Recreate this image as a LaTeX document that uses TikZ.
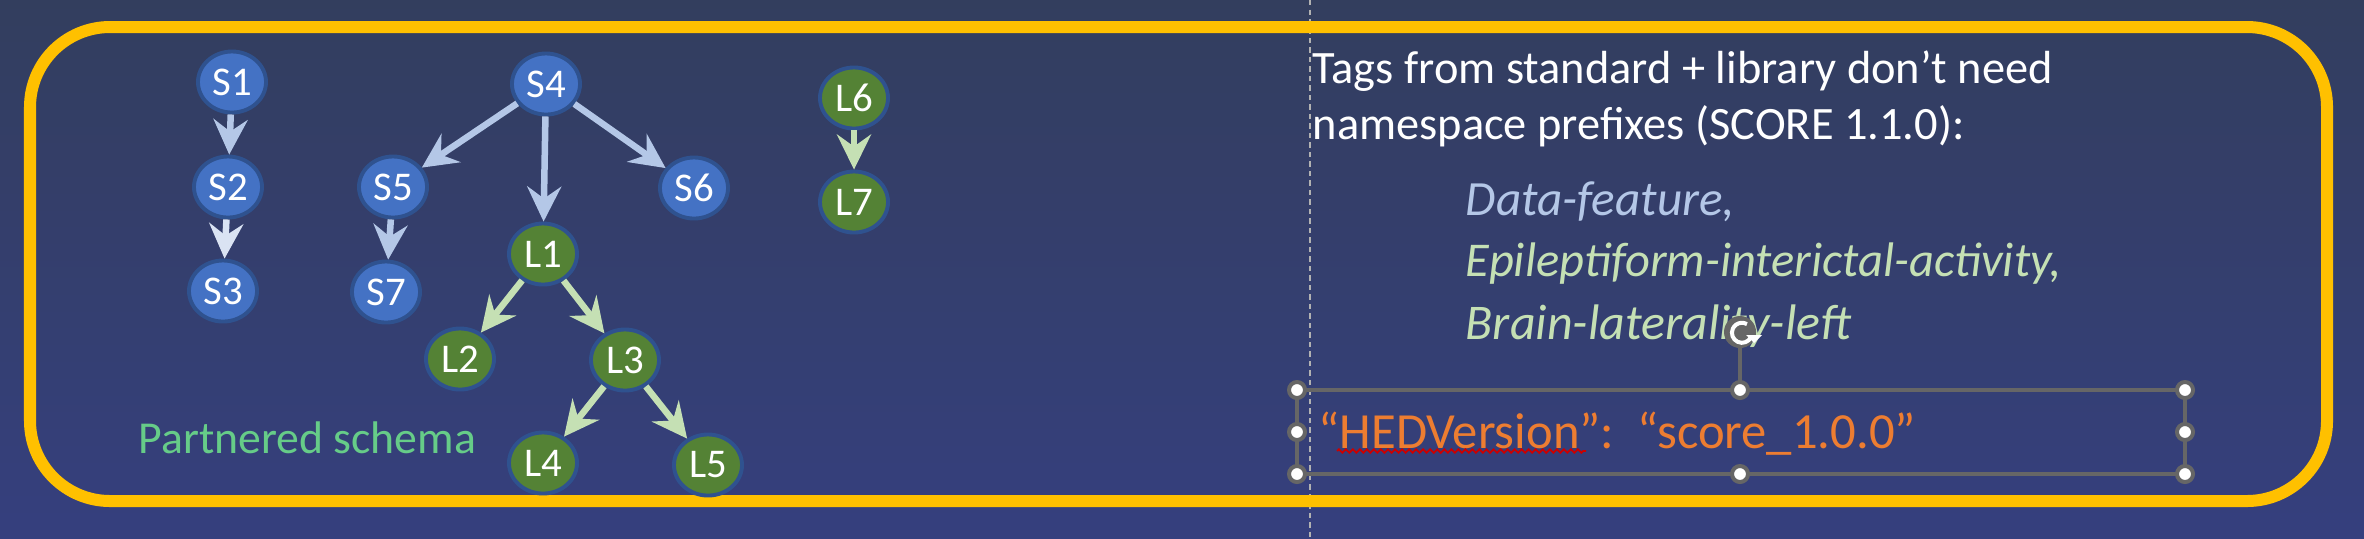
\documentclass[tikz,border=0pt]{standalone}
\usepackage{fontspec}
\setmainfont{Carlito}
\usetikzlibrary{arrows.meta,shapes.geometric,decorations.pathmorphing}
\definecolor{bgtop}{HTML}{333E5E}
\definecolor{bgbot}{HTML}{353F7E}
\definecolor{frameyel}{HTML}{FFC000}
\definecolor{schemablue}{HTML}{4472C4}
\definecolor{libgreen}{HTML}{548235}
\definecolor{ringblue}{HTML}{2F528F}
\definecolor{arrblue}{HTML}{B4C7E7}
\definecolor{arrpale}{HTML}{DAE3F3}
\definecolor{arrgreen}{HTML}{C5E0B4}
\definecolor{hedorange}{HTML}{ED7D31}
\definecolor{partgreen}{HTML}{66CC88}
\definecolor{handlegray}{HTML}{666666}
\tikzset{
  snode/.style={ellipse,draw=ringblue,line width=1.1pt,fill=schemablue,text=white,minimum width=0.68cm,minimum height=0.61cm,inner sep=0pt,font=\fontsize{11.6}{12}\selectfont},
  lnode/.style={snode,fill=libgreen},
  link/.style={-{Stealth[length=0.35cm,width=0.34cm,inset=0.12cm]},line width=0.065cm,draw=arrblue},
  liblink/.style={link,draw=arrgreen},
  tagtext/.style={anchor=base west,inner sep=0pt,font=\fontsize{13.2}{16}\selectfont},
  handle/.style={fill=white,draw=handlegray,line width=0.04cm}
}

\begin{document}
\begin{tikzpicture}[x=0.01cm,y=-0.01cm]
\useasboundingbox (0,0) rectangle (2364,538);
\shade[top color=bgtop,bottom color=bgbot] (0,0) rectangle (2364,538);
\draw[gray!60,line width=0.4pt,dash pattern=on 1.5pt off 1.2pt] (1310,0) -- (1310,538);
\draw[frameyel,line width=0.12cm,rounded corners=0.8cm] (30,27) rectangle (2327,501);
% standard schema
\node[snode] (s1) at (232,82) {S1};
\node[snode] (s2) at (228,187) {S2};
\node[snode] (s3) at (223,291) {S3};
\node[snode] (s4) at (546,84) {S4};
\node[snode] (s5) at (393,187) {S5};
\node[snode] (s6) at (694,188) {S6};
\node[snode] (s7) at (386,292) {S7};
% library schema
\node[lnode] (l1) at (543,254) {L1};
\node[lnode] (l2) at (460,359) {L2};
\node[lnode] (l3) at (625,360) {L3};
\node[lnode] (l4) at (543,463) {L4};
\node[lnode] (l5) at (708,465) {L5};
\node[lnode] (l6) at (854,98) {L6};
\node[lnode] (l7) at (854,202) {L7};
\draw[link] (s1) -- (s2);
\draw[link,draw=arrpale] (s2) -- (s3);
\foreach \a/\b in {s4/s5,s4/l1,s4/s6,s5/s7} \draw[link] (\a) -- (\b);
\foreach \a/\b in {l1/l2,l1/l3,l3/l4,l3/l5,l6/l7} \draw[liblink] (\a) -- (\b);
\node[tagtext,text=partgreen,font=\fontsize{13}{16}\selectfont] (partner) at (138,453) {Partnered schema};
% tags text
\node[tagtext,text=white] (tagsa) at (1312,83) {Tags from standard + library don’t need};
\node[tagtext,text=white] (tagsb) at (1312,139) {namespace prefixes (SCORE 1.1.0):};
\node[tagtext,text=arrblue,font=\fontsize{14}{16}\selectfont] (tagc) at (1465,215) {\itshape Data-feature,};
\node[tagtext,text=arrgreen,font=\fontsize{13.8}{16}\selectfont] (tagd) at (1465,276) {\itshape Epileptiform-interictal-activity,};
\node[tagtext,text=arrgreen,font=\fontsize{14.2}{16}\selectfont] (tage) at (1465,339) {\itshape Brain-laterality-left};
% selected text box
\draw[handlegray,line width=0.04cm] (1297,390) rectangle (2185,474);
\draw[handlegray,line width=0.04cm] (1740,390) -- (1740,346);
\node[tagtext,text=hedorange,font=\fontsize{14.4}{16}\selectfont] (hed) at (1318,448) {“HEDVersion”:\ \ “score\_1.0.0”};
\draw[red!80!black,line width=0.5pt,decorate,decoration={zigzag,segment length=2pt,amplitude=0.5pt}] (1337,451) -- (1586,451);
\foreach \hx/\hy in {1297/390,1740/390,2185/390,1297/432,2185/432,1297/474,1740/474,2185/474}
  \draw[handle] (\hx,\hy) circle (0.08cm);
\fill[handlegray] (1740,332) circle (0.16cm);
\draw[white,line width=0.04cm] (1751,337) arc (-25:-300:0.1cm);
\fill[white] (1746,335) -- (1762,335) -- (1754,343) -- cycle;
\end{tikzpicture}
\end{document}
